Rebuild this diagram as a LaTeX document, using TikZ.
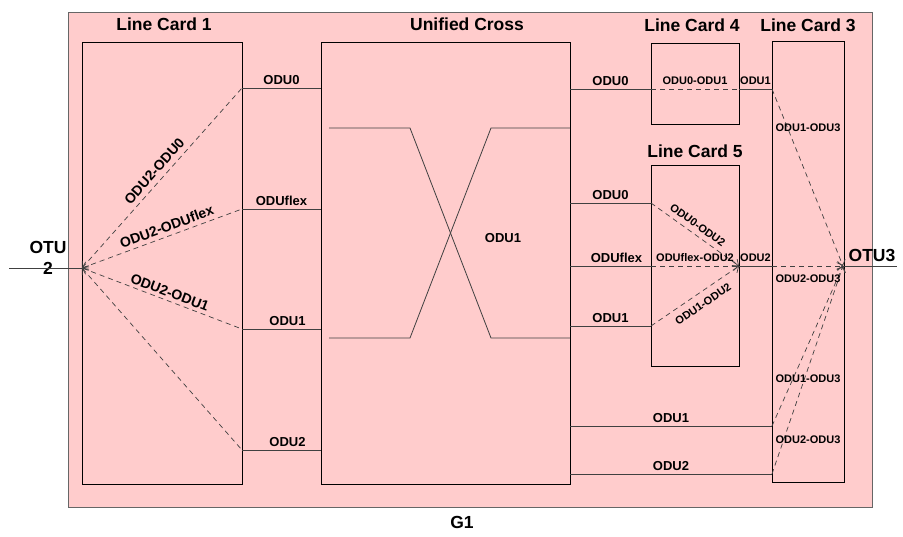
\documentclass[tikz,border=0pt]{standalone}
\usepackage{fontspec}
\setmainfont{Liberation Sans}
\usetikzlibrary{arrows.meta}
\begin{document}
\begin{tikzpicture}[x=1pt,y=-1pt,
  box/.style={draw=black, line width=0.8pt, inner sep=0pt, anchor=north west},
  title/.style={font=\fontsize{17.5}{21}\selectfont\bfseries, inner sep=0pt},
  sig/.style={font=\fontsize{13}{14}\selectfont\bfseries, inner sep=1pt},
  small/.style={font=\fontsize{11}{12}\selectfont\bfseries, inner sep=1pt},
  slab/.style={font=\fontsize{14}{15}\selectfont\bfseries, inner sep=1pt},
  link/.style={draw=black!75, line width=0.8pt},
  map/.style={draw=black!75, line width=0.7pt, dash pattern=on 5pt off 4pt},
  barb/.style={{Straight Barb[length=5pt,width=9pt]}-},
  barbend/.style={-{Straight Barb[length=5pt,width=9pt]}}
]
\useasboundingbox (0,0) rectangle (903,536);

% network element frame
\node[box, draw=black!60, fill=red!20, minimum width=804pt, minimum height=495pt] (frame) at (68,12) {};
\node[title] (g1) at (462,522) {G1};

% cards
\node[box, minimum width=160pt, minimum height=442pt] (lc1) at (82,42) {};
\node[box, minimum width=249pt, minimum height=442pt] (uc)  at (321,42) {};
\node[box, minimum width=88pt,  minimum height=81pt]  (lc4) at (651,43) {};
\node[box, minimum width=88pt,  minimum height=201pt] (lc5) at (651,165) {};
\node[box, minimum width=72pt,  minimum height=441pt] (lc3) at (772,41) {};

\node[title] (t1) at (164,24)  {Line Card 1};
\node[title] (tu) at (467,24)  {Unified Cross};
\node[title] (t4) at (692,25)  {Line Card 4};
\node[title] (t3) at (808,25)  {Line Card 3};
\node[title] (t5) at (695,151) {Line Card 5};

% ports
\coordinate (e2) at (9,268);
\coordinate (f)  at (82,268);
\coordinate (a0) at (242,88);
\coordinate (af) at (242,209);
\coordinate (a1) at (242,329);
\coordinate (a2) at (242,450);
\coordinate (u0) at (321,88);
\coordinate (uf) at (321,209);
\coordinate (u1) at (321,329);
\coordinate (u2) at (321,450);

\coordinate (r0)  at (570,89);
\coordinate (r0b) at (570,203);
\coordinate (rf)  at (570,266);
\coordinate (r1)  at (570,326);
\coordinate (r1b) at (570,426);
\coordinate (r2)  at (570,474);

\coordinate (c4i)  at (651,89);
\coordinate (c4o)  at (739,89);
\coordinate (c5i0) at (651,203);
\coordinate (c5if) at (651,266);
\coordinate (c5i1) at (651,326);
\coordinate (c5o)  at (739,266);
\coordinate (c3a)  at (772,89);
\coordinate (c3b)  at (772,266);
\coordinate (c3c)  at (772,426);
\coordinate (c3d)  at (772,474);
\coordinate (o3)   at (843,266);
\coordinate (e3)   at (897,266);

% OTU2 side
\node[title, align=center] (otu2) at (48,258) {OTU\\2};
\draw[link] (e2) -- (f);
\draw[map, barb] (f) -- node[slab, sloped, above=4pt, pos=0.5] (m0) {ODU2-ODU0} (a0);
\draw[map, barb] (f) -- node[slab, sloped, above=3pt, pos=0.55] (mf) {ODU2-ODUflex} (af);
\draw[map, barb] (f) -- node[slab, sloped, above=2pt, pos=0.53] (m1) {ODU2-ODU1} (a1);
\draw[map, barb] (f) -- (a2);

\draw[link] (a0) -- node[sig, above=2pt] (l0) {ODU0} (u0);
\draw[link] (af) -- node[sig, above=2pt] (lf) {ODUflex} (uf);
\draw[link] (a1) -- node[sig, above=2pt, xshift=6pt] (l1) {ODU1} (u1);
\draw[link] (a2) -- node[sig, above=2pt, xshift=6pt] (l2) {ODU2} (u2);

% cross-connect inside the unified fabric
\coordinate (x1) at (329,128);
\coordinate (x2) at (410,128);
\coordinate (x3) at (491,338);
\coordinate (x4) at (570,338);
\coordinate (y1) at (329,338);
\coordinate (y2) at (410,338);
\coordinate (y3) at (491,128);
\coordinate (y4) at (570,128);
\draw[link] (x1) -- (x2) -- (x3) -- (x4);
\draw[link] (y1) -- (y2) -- (y3) -- (y4);
\node[sig] (xl) at (503,238) {ODU1};

% fabric to line cards 4 and 5
\draw[link] (r0)  -- node[sig, above=2pt] (s0) {ODU0} (c4i);
\draw[link] (r0b) -- node[sig, above=2pt] (s0b) {ODU0} (c5i0);
\draw[link] (rf)  -- node[sig, above=2pt, xshift=6pt] (sf) {ODUflex} (c5if);
\draw[link] (r1)  -- node[sig, above=2pt] (s1) {ODU1} (c5i1);
\draw[link] (r1b) -- node[sig, above=2pt] (s1b) {ODU1} (c3c);
\draw[link] (r2)  -- node[sig, above=2pt] (s2) {ODU2} (c3d);

% line card 4
\draw[map] (c4i) -- node[small, above=3pt] (m4) {ODU0-ODU1} (c4o);
\draw[link] (c4o) -- node[small, above=3pt] (k1) {ODU1} (c3a);

% line card 5
\draw[map, barbend] (c5i0) -- node[small, sloped, above=4pt, pos=0.47] (n0) {ODU0-ODU2} (c5o);
\draw[map, barbend] (c5if) -- node[small, above=3pt] (nf) {ODUflex-ODU2} (c5o);
\draw[map, barbend] (c5i1) -- node[small, sloped, below=6pt, pos=0.52] (n1) {ODU1-ODU2} (c5o);
\draw[link] (c5o) -- node[small, above=3pt] (k2) {ODU2} (c3b);

% line card 3
\draw[map, barbend] (c3a) -- (o3);
\draw[map, barbend] (c3b) -- (o3);
\draw[map, barbend] (c3c) -- (o3);
\draw[map, barbend] (c3d) -- (o3);
\node[small] (p1) at (808,128) {ODU1-ODU3};
\node[small] (p2) at (808,279) {ODU2-ODU3};
\node[small] (p3) at (808,379) {ODU1-ODU3};
\node[small] (p4) at (808,440) {ODU2-ODU3};

% OTU3 side
\draw[link] (o3) -- (e3);
\node[title] (otu3) at (872,255) {OTU3};
\end{tikzpicture}
\end{document}
